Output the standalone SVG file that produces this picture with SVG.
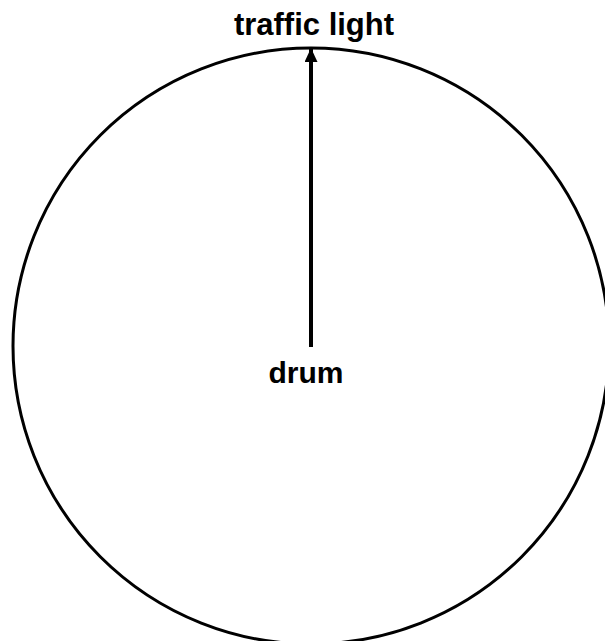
<svg xmlns="http://www.w3.org/2000/svg" width="605" height="641" viewBox="0 0 605 641">
<style>
.lbl{font-family:"Liberation Sans",Arial,sans-serif;font-weight:bold;font-size:30px;fill:#000;text-anchor:middle}
</style>
<defs>
<marker id="ah" viewBox="0 0 14 13" refX="14" refY="6.5" markerWidth="14" markerHeight="13" markerUnits="userSpaceOnUse" orient="auto">
<path d="M0,0 L14,6.5 L0,13 Z" fill="#000"/>
</marker>
</defs>
<rect width="605" height="641" fill="#fff"/>
<g id="drum">
<circle cx="311" cy="346" r="298" fill="none" stroke="#000" stroke-width="3"/>
<text class="lbl" x="306" y="383">drum</text>
</g>
<g id="traffic-light">
<text class="lbl" x="314" y="35" style="font-size:31px">traffic light</text>
</g>
<g id="connectors">
<line x1="311" y1="347" x2="311" y2="48" stroke="#000" stroke-width="4" marker-end="url(#ah)"/>
</g>
</svg>
